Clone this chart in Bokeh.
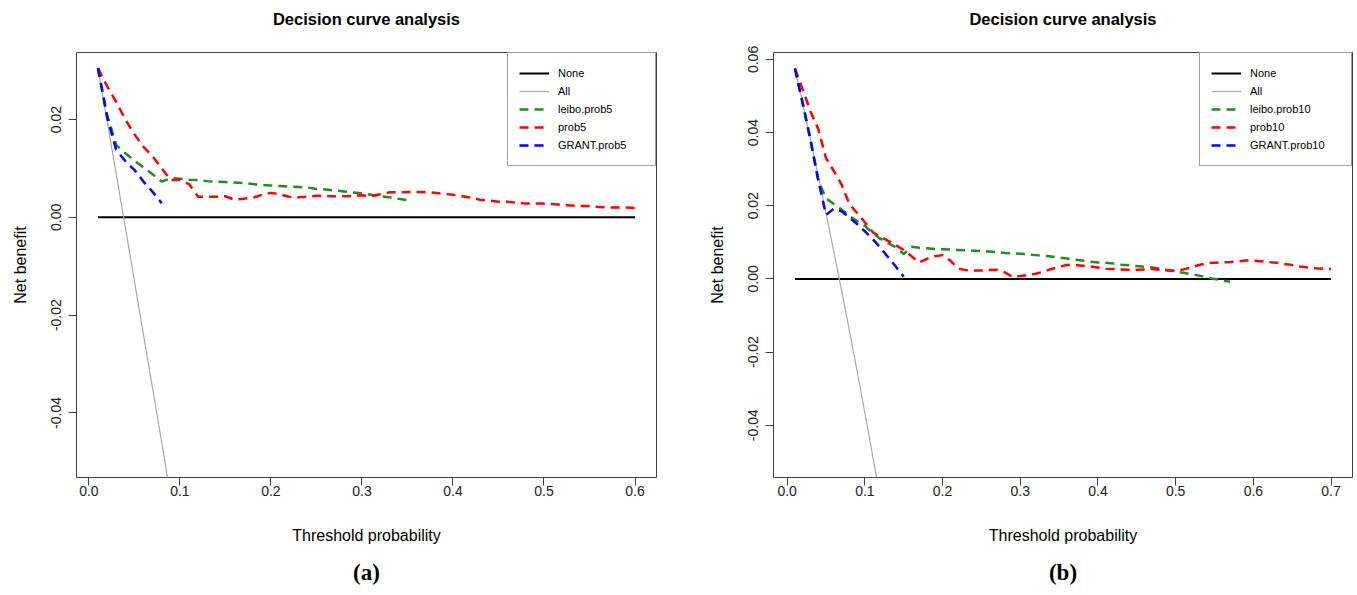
import numpy as np
from bokeh.plotting import figure
from bokeh.layouts import row
from bokeh.models import Range1d, FixedTicker, PrintfTickFormatter, Title
from bokeh.embed import file_html
from bokeh.resources import INLINE

# ---------------- data: panel (a) ----------------
thr_a_leibo = np.round(np.arange(1, 36) / 100, 2)
leibo_prob5 = [.0305, .0210, .0148, .0131, .0116, .0102, .0088, .0073, .0080, .0079,
               .0077, .0076, .0074, .0073, .0072, .0071, .0070, .0068, .0066, .0065,
               .0064, .0063, .0062, .0061, .0058, .0057, .0055, .0053, .0051, .0049,
               .0046, .0043, .0041, .0038, .0035]
thr_a_prob = np.round(np.arange(1, 61) / 100, 2)
prob5 = [.0305, .0268, .0236, .0200, .0170, .0144, .0125, .0100, .0076, .0077,
         .0068, .0042, .0042, .0042, .0043, .0036, .0038, .0040, .0046, .0050,
         .0047, .0042, .0041, .0042, .0044, .0044, .0043, .0043, .0044, .0045,
         .0043, .0047, .0051, .0051, .0052, .0052, .0052, .0050, .0048, .0046,
         .0043, .0040, .0036, .0034, .0032, .0032, .0030, .0028, .0028, .0028,
         .0027, .0025, .0024, .0023, .0023, .0021, .0020, .0020, .0020, .0019]
thr_a_grant = np.round(np.arange(1, 9) / 100, 2)
grant_prob5 = [.0305, .0205, .0138, .0115, .0097, .0073, .0052, .0029]
thr_a_all = np.round(np.arange(1, 10) / 100, 2)
all_a = [.0305, .0197, .0089, -.0020, -.0130, -.0240, -.0350, -.0460, -.0572]
none_a_x = [0.01, 0.60]
none_a_y = [0.0, 0.0]

# ---------------- data: panel (b) ----------------
thr_b_leibo = np.round(np.arange(1, 58) / 100, 2)
leibo_prob10 = [.0575, .0480, .0380, .0270, .0220, .0205, .0190, .0172, .0158, .0145,
                .0125, .0110, .0098, .0086, .0068, .0088, .0085, .0084, .0082, .0081,
                .0080, .0079, .0078, .0077, .0076, .0075, .0073, .0071, .0070, .0069,
                .0067, .0065, .0063, .0061, .0058, .0056, .0053, .0050, .0047, .0045,
                .0044, .0042, .0039, .0037, .0035, .0033, .0031, .0028, .0024, .0020,
                .0017, .0013, .0009, .0004, .0000, -.0004, -.0008]
thr_b_prob = np.round(np.arange(1, 71) / 100, 2)
prob10 = [.0575, .0518, .0458, .0410, .0330, .0295, .0258, .0205, .0180, .0155,
          .0128, .0115, .0104, .0092, .0079, .0062, .0045, .0055, .0062, .0065,
          .0050, .0028, .0024, .0023, .0023, .0024, .0025, .0018, .0006, .0008,
          .0011, .0014, .0020, .0027, .0033, .0038, .0038, .0036, .0034, .0031,
          .0028, .0027, .0026, .0025, .0025, .0026, .0027, .0025, .0023, .0023,
          .0026, .0031, .0038, .0043, .0044, .0045, .0046, .0048, .0050, .0050,
          .0048, .0046, .0044, .0041, .0038, .0034, .0031, .0029, .0028, .0027]
thr_b_grant = np.round(np.arange(1, 16) / 100, 2)
grant_prob10 = [.0575, .0480, .0380, .0270, .0175, .0192, .0185, .0168, .0150, .0130,
                .0109, .0085, .0059, .0033, .0006]
thr_b_all = np.round(np.arange(1, 13) / 100, 2)
all_b = [.0576, .0480, .0382, .0281, .0179, .0075, -.0032, -.0141, -.0252, -.0367,
         -.0483, -.0602]
none_b_x = [0.01, 0.70]
none_b_y = [0.0, 0.0]

# ---------------- ticks ----------------
x_ticks_a = [0.0, 0.1, 0.2, 0.3, 0.4, 0.5, 0.6]
x_labels_a = ["0.0", "0.1", "0.2", "0.3", "0.4", "0.5", "0.6"]
y_ticks_a = [-0.04, -0.02, 0.0, 0.02]
y_labels_a = ["-0.04", "-0.02", "0.00", "0.02"]
x_ticks_b = [0.0, 0.1, 0.2, 0.3, 0.4, 0.5, 0.6, 0.7]
x_labels_b = ["0.0", "0.1", "0.2", "0.3", "0.4", "0.5", "0.6", "0.7"]
y_ticks_b = [-0.04, -0.02, 0.0, 0.02, 0.04, 0.06]
y_labels_b = ["-0.04", "-0.02", "0.00", "0.02", "0.04", "0.06"]

TITLE = "Decision curve analysis"
FONT = "Liberation Sans"
GREEN = "#228B22"
RED = "#FF0000"
BLUE = "#0000FF"
GRAY = "#A8A8A8"
DASH = "9 6"


def make_panel(width, border_right, xr, yr, xt, xl, yt, yl, caption, series, names,
               label_w):
    p = figure(width=width, height=595, output_backend="svg", toolbar_location=None,
               x_range=Range1d(*xr), y_range=Range1d(*yr),
               min_border_left=76, min_border_right=border_right,
               min_border_top=52, min_border_bottom=118)
    p.background_fill_color = "white"
    p.border_fill_color = "white"
    p.outline_line_color = "#404040"
    p.outline_line_width = 1
    p.grid.visible = False

    p.title.text = ""
    p.title.standoff = 0
    p.title.visible = False
    # spacer closest to the frame, then the visible title further out
    p.add_layout(Title(text=" ", text_font_size="1px", standoff=19), "above")
    p.add_layout(Title(text=TITLE, align="center", vertical_align="top",
                       text_font=FONT, text_font_size="16.5px", text_font_style="bold",
                       text_color="black", standoff=2), "above")

    for ax in (p.xaxis[0], p.yaxis[0]):
        ax.axis_line_color = None
        ax.major_tick_in = 0
        ax.major_tick_out = 8
        ax.minor_tick_line_color = None
        ax.major_tick_line_color = "#404040"
        ax.major_label_text_font = FONT
        ax.major_label_text_font_size = "14px"
        ax.major_label_text_color = "#222222"
        ax.axis_label_text_font = FONT
        ax.axis_label_text_font_size = "16px"
        ax.axis_label_text_font_style = "normal"
        ax.axis_label_text_color = "black"

    p.xaxis.ticker = FixedTicker(ticks=xt)
    p.xaxis.formatter = PrintfTickFormatter(format="%.1f")
    p.xaxis.major_label_overrides = dict(zip(xt, xl))
    p.xaxis.axis_label = "Threshold probability"
    p.xaxis.major_label_standoff = 0
    p.xaxis.axis_label_standoff = 28

    p.yaxis.ticker = FixedTicker(ticks=yt)
    p.yaxis.formatter = PrintfTickFormatter(format="%.2f")
    p.yaxis.major_label_overrides = dict(zip(yt, yl))
    p.yaxis.major_label_orientation = "vertical"
    p.yaxis.axis_label = "Net benefit"
    p.yaxis.major_label_standoff = 7
    p.yaxis.axis_label_standoff = 20

    (nx, ny), (ax_, ay), (lx, ly), (px_, py), (gx, gy) = series
    p.line(nx, ny, line_color="black", line_width=2, legend_label=names[0])
    p.line(ax_, ay, line_color=GRAY, line_width=1.2, legend_label=names[1])
    p.line(lx, ly, line_color=GREEN, line_width=2.5, line_dash=DASH, legend_label=names[2])
    p.line(px_, py, line_color=RED, line_width=2.5, line_dash=DASH, legend_label=names[3])
    p.line(gx, gy, line_color=BLUE, line_width=2.5, line_dash=DASH, legend_label=names[4])

    lg = p.legend[0]
    lg.location = "top_right"
    lg.margin = 0
    lg.padding = 11
    lg.spacing = 0
    lg.label_height = 18
    lg.glyph_height = 18
    lg.glyph_width = 30
    lg.label_standoff = 9
    lg.label_width = label_w
    lg.label_text_font = FONT
    lg.label_text_font_size = "11px"
    lg.label_text_color = "black"
    lg.border_line_color = "#404040"
    lg.border_line_width = 1
    lg.background_fill_color = "white"
    lg.background_fill_alpha = 1.0

    cap = Title(text=caption, align="center", text_font="Liberation Serif",
                text_font_size="23px", text_font_style="bold", text_color="black",
                standoff=22)
    p.add_layout(cap, "below")
    return p


pa = make_panel(697, 41, (-0.0136, 0.6236), (-0.0532, 0.0337),
                x_ticks_a, x_labels_a, y_ticks_a, y_labels_a, "(a)",
                [(none_a_x, none_a_y), (thr_a_all, all_a), (thr_a_leibo, leibo_prob5),
                 (thr_a_prob, prob5), (thr_a_grant, grant_prob5)],
                ["None", "All", "leibo.prob5", "prob5", "GRANT.prob5"], 86)

pb = make_panel(658, 3, (-0.0176, 0.7276), (-0.0543, 0.0619),
                x_ticks_b, x_labels_b, y_ticks_b, y_labels_b, "(b)",
                [(none_b_x, none_b_y), (thr_b_all, all_b), (thr_b_leibo, leibo_prob10),
                 (thr_b_prob, prob10), (thr_b_grant, grant_prob10)],
                ["None", "All", "leibo.prob10", "prob10", "GRANT.prob10"], 90)

layout = row(pa, pb)
open("out.html", "w").write(file_html(layout, INLINE))
